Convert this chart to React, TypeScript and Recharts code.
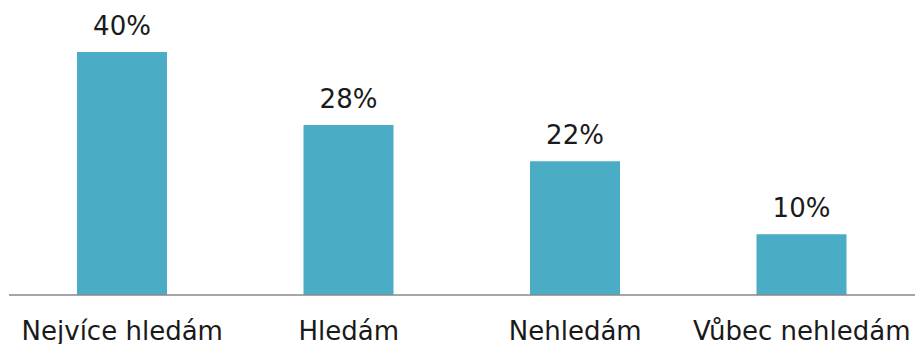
import React from "react";
import { BarChart, Bar, XAxis, YAxis, LabelList } from "recharts";

const categories = ["Nejvíce hledám", "Hledám", "Nehledám", "Vůbec nehledám"];
const shares = [40, 28, 22, 10];

const data = categories.map((name, i) => ({ name, value: shares[i] }));

const font = "'DejaVu Sans', Verdana, sans-serif";

const App: React.FC = () => {
  return (
    <div style={{ position: "absolute", left: 0, top: 0, width: 915, height: 344, background: "#fff" }}>
      <BarChart
        width={915}
        height={344}
        data={data}
        margin={{ top: 52, right: 0, bottom: 0, left: 9 }}
        barSize={90}
      >
        <XAxis
          dataKey="name"
          height={49}
          tickLine={false}
          tickSize={0}
          tickMargin={27}
          interval={0}
          axisLine={{ stroke: "#888888", strokeWidth: 1.5 }}
          tick={{ fill: "#1a1a1a", fontSize: 26, fontFamily: font }}
        />
        <YAxis hide domain={[0, 40]} />
        <Bar dataKey="value" fill="#4BACC6" isAnimationActive={false}>
          <LabelList
            dataKey="value"
            position="top"
            offset={17}
            formatter={(v: number) => `${v}%`}
            style={{ fill: "#1a1a1a", fontSize: 26, fontFamily: font }}
          />
        </Bar>
      </BarChart>
    </div>
  );
};

export default App;
